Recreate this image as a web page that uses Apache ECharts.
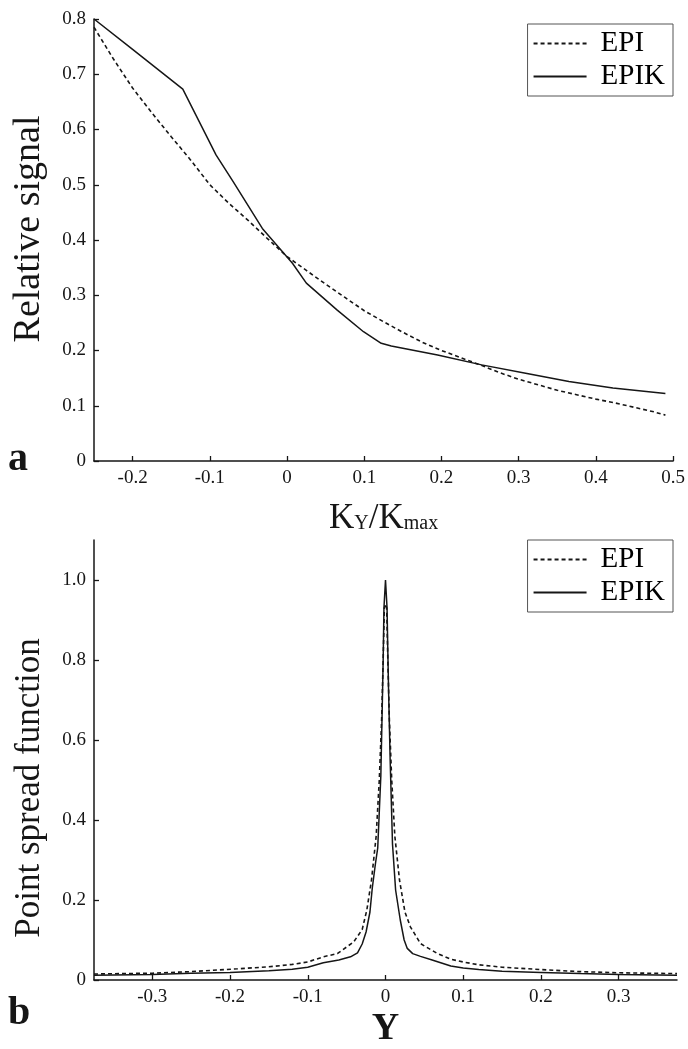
<!DOCTYPE html>
<html>
<head>
<meta charset="utf-8">
<script src="https://cdn.jsdelivr.net/npm/echarts@6/dist/echarts.min.js"></script>
<style>
html,body{margin:0;padding:0;background:#fff;}
#chart{width:688px;height:1049px;}
</style>
</head>
<body>
<div id="chart"></div>
<script>
// ---- Panel a: relative signal vs Ky/Kmax ----
const aEpiX  = [-0.25, -0.225, -0.2, -0.175, -0.15, -0.125, -0.1, -0.075, -0.05, -0.025, 0, 0.025, 0.05, 0.075, 0.1, 0.125, 0.15, 0.175, 0.2, 0.225, 0.25, 0.275, 0.3, 0.325, 0.35, 0.375, 0.4, 0.425, 0.45, 0.475, 0.49];
const aEpiY  = [0.785, 0.728, 0.675, 0.630, 0.587, 0.545, 0.500, 0.466, 0.435, 0.402, 0.370, 0.345, 0.320, 0.296, 0.272, 0.252, 0.233, 0.215, 0.200, 0.187, 0.174, 0.160, 0.148, 0.138, 0.128, 0.120, 0.112, 0.105, 0.097, 0.089, 0.083];
const aEpikX = [-0.25, -0.2, -0.135, -0.118, -0.092, -0.07, -0.032, 0.007, 0.025, 0.065, 0.099, 0.122, 0.135, 0.195, 0.252, 0.309, 0.365, 0.422, 0.49];
const aEpikY = [0.800, 0.745, 0.673, 0.626, 0.554, 0.506, 0.421, 0.358, 0.322, 0.273, 0.234, 0.213, 0.208, 0.192, 0.174, 0.159, 0.144, 0.132, 0.122];
const aXTicks = [-0.2, -0.1, 0, 0.1, 0.2, 0.3, 0.4, 0.5];
const aYTicks = [0, 0.1, 0.2, 0.3, 0.4, 0.5, 0.6, 0.7, 0.8];

// ---- Panel b: point spread function vs Y ----
const bEpiX  = [-0.375, -0.3, -0.25, -0.19, -0.15, -0.12, -0.1, -0.08, -0.062, -0.041, -0.03, -0.024, -0.018, -0.012, -0.008, -0.005, -0.003, -0.0015, 0, 0.0015, 0.003, 0.005, 0.008, 0.012, 0.018, 0.025, 0.032, 0.045, 0.066, 0.084, 0.1, 0.12, 0.15, 0.2, 0.25, 0.3, 0.375];
const bEpiY  = [0.015, 0.017, 0.021, 0.028, 0.033, 0.039, 0.045, 0.058, 0.066, 0.095, 0.126, 0.175, 0.25, 0.36, 0.50, 0.65, 0.80, 0.93, 0.94, 0.93, 0.80, 0.65, 0.50, 0.36, 0.25, 0.17, 0.133, 0.091, 0.067, 0.052, 0.045, 0.038, 0.032, 0.026, 0.021, 0.018, 0.016];
const bEpikX = [-0.375, -0.3, -0.25, -0.2, -0.15, -0.12, -0.1, -0.08, -0.06, -0.045, -0.036, -0.03, -0.025, -0.02, -0.017, -0.013, -0.01, -0.008, -0.006, -0.004, -0.003, -0.002, 0, 0.002, 0.003, 0.004, 0.006, 0.009, 0.013, 0.019, 0.024, 0.028, 0.035, 0.045, 0.06, 0.084, 0.1, 0.12, 0.15, 0.2, 0.25, 0.3, 0.375];
const bEpikY = [0.012, 0.014, 0.017, 0.019, 0.023, 0.027, 0.032, 0.043, 0.050, 0.058, 0.068, 0.09, 0.12, 0.17, 0.23, 0.29, 0.33, 0.42, 0.51, 0.70, 0.80, 0.93, 1.00, 0.93, 0.82, 0.72, 0.55, 0.34, 0.225, 0.15, 0.10, 0.079, 0.066, 0.059, 0.050, 0.035, 0.030, 0.026, 0.022, 0.019, 0.016, 0.014, 0.012];
const bXTicks = [-0.3, -0.2, -0.1, 0, 0.1, 0.2, 0.3];
const bYTicks = [0, 0.2, 0.4, 0.6, 0.8, 1.0];

const seriesNames = ['EPI', 'EPIK'];

const FONT = 'Liberation Serif';
const INK = '#161616';
const pairs = (xs, ys) => xs.map((x, i) => [x, ys[i]]);
const fmtA = v => (Math.abs(v) < 1e-9 ? '0' : String(Math.round(v * 10) / 10));
const fmtB = v => (Math.abs(v) < 1e-9 ? '0' : v.toFixed(1));

function xAxis(gridIndex, min, max, ticks, name, nameStyle, nameGap) {
  return {
    type: 'value', gridIndex, min, max,
    axisLine: { show: true, onZero: false, lineStyle: { color: INK, width: 1.5 } },
    axisTick: { show: true, inside: true, length: 5, customValues: ticks, lineStyle: { color: INK, width: 1.3 } },
    axisLabel: { customValues: ticks, formatter: fmtA, fontFamily: FONT, fontSize: 19, color: INK, margin: 8 },
    splitLine: { show: false },
    name, nameLocation: 'middle', nameGap, nameTextStyle: nameStyle
  };
}
function yAxis(gridIndex, min, max, ticks, fmt, name, nameGap, fontSize, pad) {
  return {
    type: 'value', gridIndex, min, max,
    axisLine: { show: true, onZero: false, lineStyle: { color: INK, width: 1.5 } },
    axisTick: { show: true, inside: true, length: 5, customValues: ticks, lineStyle: { color: INK, width: 1.3 } },
    axisLabel: { customValues: ticks, formatter: fmt, fontFamily: FONT, fontSize: 19, color: INK, margin: 8 },
    splitLine: { show: false },
    name, nameLocation: 'middle', nameGap,
    nameTextStyle: { fontFamily: FONT, fontSize, color: INK, padding: pad }
  };
}
function legend(top) {
  return {
    orient: 'vertical', right: 15, top,
    data: seriesNames,
    itemWidth: 53, itemHeight: 14, itemGap: 4,
    itemStyle: { opacity: 0 },
    borderColor: '#555', borderWidth: 1,
    padding: [5, 8, 5, 5],
    backgroundColor: '#fff',
    textStyle: { fontFamily: FONT, fontSize: 29, color: '#000', padding: [0, 0, 0, 9] },
    inactiveColor: '#999'
  };
}
function line(name, data, xi, dashed) {
  return {
    name, type: 'line', xAxisIndex: xi, yAxisIndex: xi, data,
    symbol: 'none', smooth: false, animation: false,
    lineStyle: { color: INK, width: dashed ? 1.6 : 1.5, type: dashed ? [4, 3] : 'solid' },
    itemStyle: { color: INK }
  };
}

const chart = echarts.init(document.getElementById('chart'), null, { renderer: 'canvas' });
chart.setOption({
  backgroundColor: '#fff',
  animation: false,
  grid: [
    { left: 94, top: 19, width: 582, height: 442 },
    { left: 94, top: 540, width: 583, height: 444 }
  ],
  xAxis: [
    xAxis(0, -0.25, 0.5, aXTicks, '{big|K}{small|Y}{big|/K}{small|max}',
      { rich: { big: { fontFamily: FONT, fontSize: 35, color: INK }, small: { fontFamily: FONT, fontSize: 20, color: INK, padding: [10, 0, 0, 0] } } }, 40),
    xAxis(1, -0.375, 0.375, bXTicks, 'Y',
      { fontFamily: FONT, fontSize: 38, fontWeight: 'bold', color: INK }, 30)
  ],
  yAxis: [
    yAxis(0, 0, 0.8, aYTicks, fmtA, 'Relative signal', 46, 38, [0, 0, 0, 22]),
    yAxis(1, 0, 1.1, bYTicks, fmtB, 'Point spread function', 47, 35, [0, 56, 0, 0])
  ],
  legend: [legend(24), legend(540)],
  series: [
    line('EPI', pairs(aEpiX, aEpiY), 0, true),
    line('EPIK', pairs(aEpikX, aEpikY), 0, false),
    line('EPI', pairs(bEpiX, bEpiY), 1, true),
    line('EPIK', pairs(bEpikX, bEpikY), 1, false)
  ],
  graphic: [
    { type: 'text', left: 8, top: 440, style: { text: 'a', fontFamily: FONT, fontSize: 40, fontWeight: 'bold', fill: INK } },
    { type: 'text', left: 8, top: 994, style: { text: 'b', fontFamily: FONT, fontSize: 40, fontWeight: 'bold', fill: INK } }
  ]
});
</script>
</body>
</html>
